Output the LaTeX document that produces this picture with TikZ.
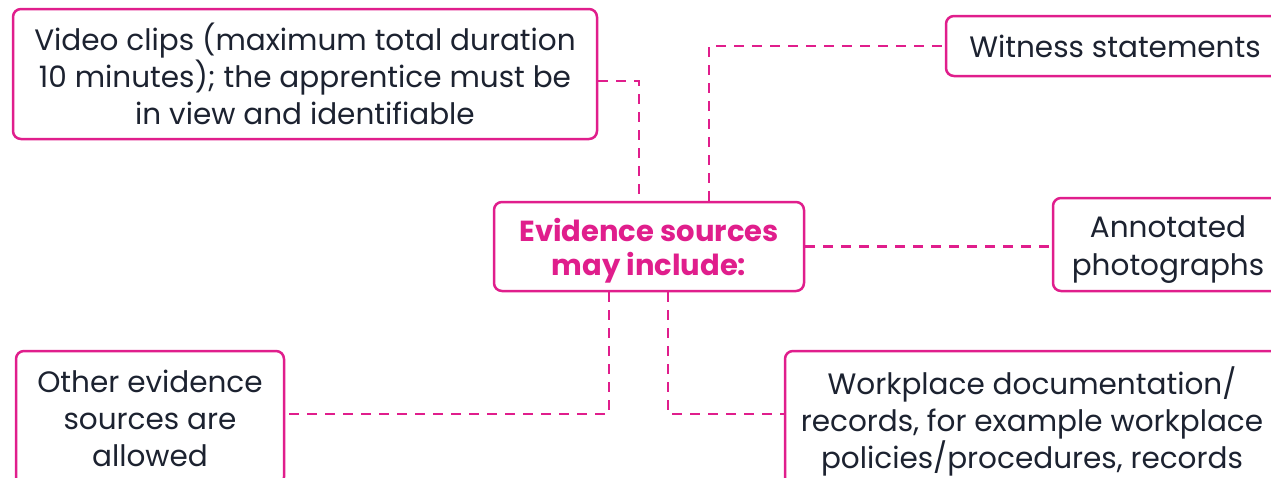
\documentclass[tikz,border=0pt]{standalone}
\usepackage{fontspec}
\setmainfont{Poppins}
\usepackage{xcolor}
\usepackage{tikz}
\usetikzlibrary{positioning,calc}

\definecolor{evpink}{HTML}{E01E8C}
\definecolor{evtext}{HTML}{1C2230}

\newcommand{\toppad}[1]{\rule{0pt}{#1}}

\tikzset{
    srcbox/.style={draw=evpink, line width=2.5pt, rounded corners=8pt, fill=white,
        align=center, text=evtext, font=\fontsize{29.5}{37}\selectfont, inner sep=0pt},
    hubbox/.style={srcbox, text=evpink, font=\fontsize{29}{34}\selectfont\bfseries},
    link/.style={draw=evpink, line width=2.6pt, dashed, dash pattern=on 10pt off 8pt}
}

\begin{document}
\begin{tikzpicture}[x=1pt, y=-1pt]
        \useasboundingbox (0,0) rectangle (1271,477);
        \clip (0,0) rectangle (1271,477);

        % Centre
        \node[hubbox, minimum width=310pt, minimum height=89pt] (hub) at (649,246.5) {\toppad{32pt}Evidence sources\\may include:};

        % Sources
        \node[srcbox, minimum width=584pt, minimum height=130pt] (video) at (305,74) {Video clips (maximum total duration\\10 minutes); the apprentice must be\\in view and identifiable};
        \node[srcbox, minimum width=338pt, minimum height=60pt] (witness) at (1115,46) {Witness statements};
        \node[srcbox, minimum width=230pt, minimum height=93pt, font=\fontsize{29.5}{38}\selectfont] (annot) at (1168,244.5) {\toppad{32pt}Annotated\\photographs};
        \node[srcbox, minimum width=268pt, minimum height=134pt] (other) at (150,418) {Other evidence\\sources are\\allowed};
        \node[srcbox, minimum width=494pt, minimum height=170pt] (work) at (1032,436) {Workplace documentation/\\records, for example workplace\\policies/procedures, records\\\mbox{}};

        % Connectors
        \draw[link] ([yshift=-7pt]video.east) -| ([xshift=-10pt]hub.north);
        \draw[link] ([xshift=60pt]hub.north) |- (witness.west);
        \draw[link] (hub.east) -- (hub.east -| annot.west);
        \draw[link] ([xshift=-40pt]hub.south) |- ([yshift=4pt]other.east);
        \draw[link] ([xshift=19pt]hub.south) |- ([yshift=22pt]work.west);
\end{tikzpicture}
\end{document}
